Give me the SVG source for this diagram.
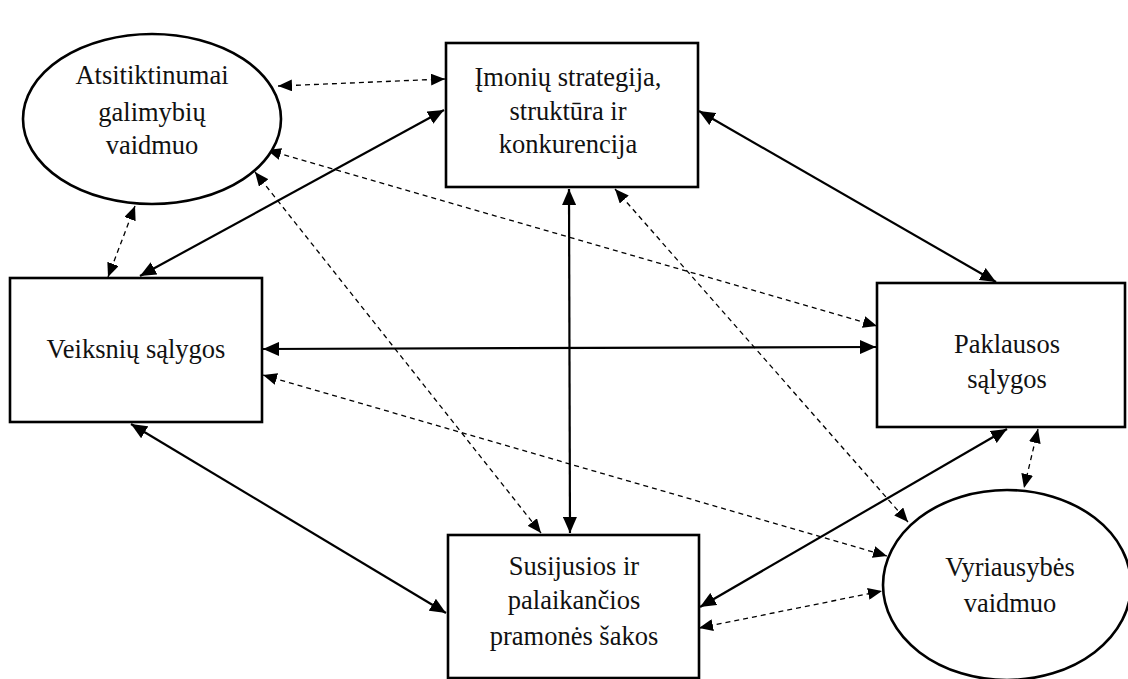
<svg xmlns="http://www.w3.org/2000/svg" width="1128" height="679" viewBox="0 0 1128 679">
<style>
.node{fill:#fff;stroke:#000;stroke-width:2.6}
.t{font-family:"Liberation Serif","Times New Roman",serif;font-size:26.5px;fill:#111;text-anchor:middle}
.s{fill:none;stroke:#000;stroke-width:2.2}
.d{fill:none;stroke:#000;stroke-width:1.3;stroke-dasharray:5 4}
</style>
<defs>
<marker id="ah" markerUnits="userSpaceOnUse" markerWidth="18" markerHeight="14" refX="16" refY="7" orient="auto-start-reverse" viewBox="0 0 18 14"><path d="M0,0 L16,7 L0,14 Z" fill="#000"/></marker>
<marker id="ad" markerUnits="userSpaceOnUse" markerWidth="16" markerHeight="12" refX="14" refY="6" orient="auto-start-reverse" viewBox="0 0 16 12"><path d="M0,0 L14,6 L0,12 Z" fill="#000"/></marker>
</defs>
<rect width="1128" height="679" fill="#fff"/>
<g id="connectors">
<line class="s" x1="444" y1="110" x2="140" y2="276" marker-start="url(#ah)" marker-end="url(#ah)"/>
<line class="s" x1="699" y1="111" x2="996" y2="282" marker-start="url(#ah)" marker-end="url(#ah)"/>
<line class="s" x1="263" y1="349" x2="876" y2="347" marker-start="url(#ah)" marker-end="url(#ah)"/>
<line class="s" x1="131" y1="424" x2="446" y2="613" marker-start="url(#ah)" marker-end="url(#ah)"/>
<line class="s" x1="569" y1="189" x2="570" y2="533" marker-start="url(#ah)" marker-end="url(#ah)"/>
<line class="s" x1="700" y1="607" x2="1007" y2="429" marker-start="url(#ah)" marker-end="url(#ah)"/>
<line class="d" x1="278" y1="86" x2="445" y2="79" marker-start="url(#ad)" marker-end="url(#ad)"/>
<line class="d" x1="135" y1="206" x2="108" y2="277" marker-start="url(#ad)" marker-end="url(#ad)"/>
<line class="d" x1="267" y1="150" x2="877" y2="326" marker-start="url(#ad)" marker-end="url(#ad)"/>
<line class="d" x1="255" y1="172" x2="541" y2="533" marker-start="url(#ad)" marker-end="url(#ad)"/>
<line class="d" x1="615" y1="189" x2="908" y2="522" marker-start="url(#ad)" marker-end="url(#ad)"/>
<line class="d" x1="263" y1="375" x2="887" y2="556" marker-start="url(#ad)" marker-end="url(#ad)"/>
<line class="d" x1="699" y1="628" x2="882" y2="591" marker-start="url(#ad)" marker-end="url(#ad)"/>
<line class="d" x1="1038" y1="429" x2="1024" y2="488" marker-start="url(#ad)" marker-end="url(#ad)"/>
</g>
<g id="atsitiktinumai">
<ellipse class="node" cx="152" cy="119" rx="129" ry="85"/>
<text class="t" x="152" y="84">Atsitiktinumai</text>
<text class="t" x="152" y="121">galimybių</text>
<text class="t" x="152" y="154">vaidmuo</text>
</g>
<g id="imoniu">
<rect class="node" x="446" y="43" width="252" height="144"/>
<text class="t" x="568" y="86">Įmonių strategija,</text>
<text class="t" x="568" y="120">struktūra ir</text>
<text class="t" x="568" y="153">konkurencija</text>
</g>
<g id="veiksniu">
<rect class="node" x="10" y="278" width="252" height="144"/>
<text class="t" x="136" y="358">Veiksnių sąlygos</text>
</g>
<g id="paklausos">
<rect class="node" x="877" y="283" width="248" height="144"/>
<text class="t" x="1007" y="353">Paklausos</text>
<text class="t" x="1007" y="388">sąlygos</text>
</g>
<g id="susijusios">
<rect class="node" x="448" y="535" width="251" height="143"/>
<text class="t" x="574" y="575">Susijusios ir</text>
<text class="t" x="574" y="609">palaikančios</text>
<text class="t" x="574" y="645">pramonės šakos</text>
</g>
<g id="vyriausybes">
<ellipse class="node" cx="1007" cy="585" rx="124" ry="95"/>
<text class="t" x="1010" y="576">Vyriausybės</text>
<text class="t" x="1010" y="612">vaidmuo</text>
</g>
</svg>
